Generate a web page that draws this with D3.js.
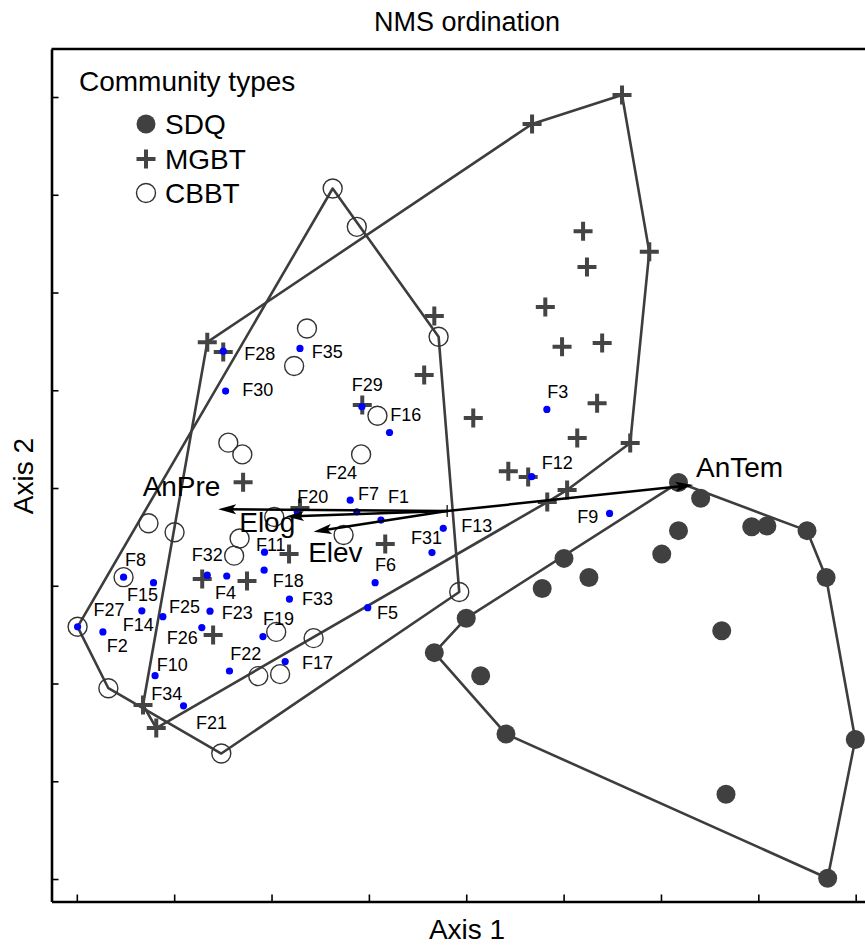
<!DOCTYPE html>
<html>
<head>
<meta charset="utf-8">
<script src="https://cdn.jsdelivr.net/npm/d3@7"></script>
<style>
  body { margin: 0; background: #fff; }
  text { font-family: "Liberation Sans", Arial, sans-serif; fill: #000; }
</style>
</head>
<body>
<div id="chart"></div>
<script>
// NMS scores (axis units, ticks every 0.25)
var sdq = [[0.545, 0.014], [0.602, -0.026], [0.733, -0.099], [0.772, -0.097], [0.875, -0.109],
  [0.924, -0.229], [0.999, -0.643], [0.928, -0.998], [0.667, -0.783], [0.102, -0.629],
  [0.037, -0.480], [-0.082, -0.421], [0.000, -0.333], [0.251, -0.180], [0.195, -0.257],
  [0.315, -0.229], [0.502, -0.169], [0.545, -0.109], [0.656, -0.365]];

var mgbt = [[0.400, 1.005], [0.169, 0.931], [0.470, 0.604], [0.300, 0.657], [0.310, 0.565],
  [0.203, 0.463], [0.246, 0.361], [0.349, 0.371], [0.336, 0.217], [0.285, 0.128],
  [0.421, 0.115], [-0.082, 0.440], [-0.108, 0.289], [0.018, 0.179], [0.108, 0.043],
  [0.159, 0.028], [0.259, -0.005], [0.208, -0.036], [-0.665, 0.373], [-0.624, 0.348],
  [-0.267, 0.212], [-0.573, 0.015], [-0.427, -0.051], [-0.455, -0.169], [-0.208, -0.143],
  [-0.678, -0.233], [-0.563, -0.238], [-0.650, -0.376], [-0.830, -0.555], [-0.796, -0.614]];

var cbbt = [[-0.343, 0.766], [-0.281, 0.668], [-0.409, 0.408], [-0.442, 0.312], [-0.071, 0.387],
  [-0.228, 0.185], [-0.611, 0.116], [-0.575, 0.086], [-0.270, 0.086], [-0.816, -0.090],
  [-0.749, -0.113], [-0.493, -0.074], [-0.582, -0.129], [-0.596, -0.173], [-0.315, -0.120],
  [-0.880, -0.228], [-0.018, -0.266], [-0.998, -0.355], [-0.919, -0.512], [-0.629, -0.679],
  [-0.488, -0.368], [-0.392, -0.384], [-0.534, -0.481], [-0.478, -0.476]];

var siteNames = ['F1', 'F2', 'F3', 'F4', 'F5', 'F6', 'F7', 'F8', 'F9', 'F10',
  'F11', 'F12', 'F13', 'F14', 'F15', 'F16', 'F17', 'F18', 'F19', 'F20',
  'F21', 'F22', 'F23', 'F24', 'F25', 'F26', 'F27', 'F28', 'F29', 'F30',
  'F31', 'F32', 'F33', 'F34', 'F35'];

// site points (F21 is not visible in the figure)
var sitePoints = [[-0.219, -0.082], [-0.933, -0.368], [0.207, 0.201], [-0.615, -0.225], [-0.253, -0.306],
  [-0.234, -0.242], [-0.281, -0.061], [-0.880, -0.228], [0.368, -0.065], [-0.799, -0.480],
  [-0.518, -0.164], [0.168, 0.029], [-0.059, -0.103], [-0.833, -0.314], [-0.803, -0.242],
  [-0.197, 0.142], [-0.465, -0.444], [-0.519, -0.210], [-0.522, -0.380], [-0.434, -0.061],
  null, [-0.608, -0.468], [-0.658, -0.315], [-0.298, -0.031], [-0.779, -0.329],
  [-0.679, -0.357], [-0.998, -0.355], [-0.624, 0.350], [-0.268, 0.208], [-0.618, 0.248],
  [-0.088, -0.165], [-0.665, -0.223], [-0.454, -0.284], [-0.726, -0.557], [-0.427, 0.357]];

// where each site label sits (left edge, middle)
var siteLabelAt = [[-0.201, -0.023], [-0.923, -0.404], [0.208, 0.246], [-0.645, -0.269], [-0.229, -0.320],
  [-0.234, -0.197], [-0.278, -0.015], [-0.876, -0.184], [0.285, -0.074], [-0.795, -0.453],
  [-0.540, -0.146], [0.194, 0.064], [-0.013, -0.097], [-0.882, -0.349], [-0.871, -0.274],
  [-0.195, 0.188], [-0.422, -0.446], [-0.497, -0.237], [-0.522, -0.333], [-0.434, -0.023],
  [-0.694, -0.599], [-0.606, -0.423], [-0.628, -0.320], [-0.360, 0.038], [-0.763, -0.304],
  [-0.769, -0.384], [-0.957, -0.310], [-0.570, 0.343], [-0.294, 0.263], [-0.575, 0.251],
  [-0.142, -0.126], [-0.705, -0.171], [-0.422, -0.284], [-0.809, -0.525], [-0.397, 0.349]];

// environmental vectors
var vecOrigin = [-0.049, -0.059];
var vecNames = ['AnTem', 'AnPre', 'Elog', 'Elev'];
var vecTips = [[0.583, 0.008], [-0.637, -0.054], [-0.463, -0.073], [-0.392, -0.112]];
var vecLabelAt = [[0.590, 0.028], [-0.831, -0.020], [-0.583, -0.113], [-0.406, -0.188]];

var groupNames = ['SDQ', 'MGBT', 'CBBT'];
var tickVals = [-1, -0.75, -0.5, -0.25, 0, 0.25, 0.5, 0.75, 1];

var w = 865;
var h = 945;
var plotLeft = 51.5, plotTop = 49, plotBottom = 901.5, plotRight = 881;
var ink = '#3d3d3d';

var svg = d3.select('#chart')
  .append('svg')
  .attr('width', w)
  .attr('height', h);

svg.append('rect').attr('width', w).attr('height', h).attr('fill', '#fff');

var x = d3.scaleLinear().domain([-1.065, 1.065]).range([plotLeft, plotRight]);
var y = d3.scaleLinear().domain([-1.0575, 1.1228]).range([plotBottom, plotTop]);

function px(p) { return [x(p[0]), y(p[1])]; }

// hulls
[sdq, mgbt, cbbt].forEach(function(g) {
  var hull = d3.polygonHull(g.map(px));
  svg.append('path')
    .attr('d', 'M' + hull.join('L') + 'Z')
    .attr('fill', 'none')
    .attr('stroke', ink)
    .attr('stroke-width', 2.6)
    .attr('stroke-linejoin', 'round');
});

// points
svg.append('g').selectAll('circle')
  .data(sdq)
  .enter()
  .append('circle')
  .attr('cx', function(d) { return x(d[0]); })
  .attr('cy', function(d) { return y(d[1]); })
  .attr('r', 9.5)
  .attr('fill', '#404040');

svg.append('g').selectAll('circle')
  .data(cbbt)
  .enter()
  .append('circle')
  .attr('cx', function(d) { return x(d[0]); })
  .attr('cy', function(d) { return y(d[1]); })
  .attr('r', 9.5)
  .attr('fill', 'none')
  .attr('stroke', '#333')
  .attr('stroke-width', 1.4);

var crossPath = 'M-9.5,0H9.5M0,-9.5V9.5';
svg.append('g').selectAll('path')
  .data(mgbt)
  .enter()
  .append('path')
  .attr('d', crossPath)
  .attr('transform', function(d) { return 'translate(' + x(d[0]) + ',' + y(d[1]) + ')'; })
  .attr('stroke', '#444')
  .attr('stroke-width', 4);

// sites
svg.append('g').selectAll('circle')
  .data(sitePoints.filter(function(d) { return d; }))
  .enter()
  .append('circle')
  .attr('cx', function(d) { return x(d[0]); })
  .attr('cy', function(d) { return y(d[1]); })
  .attr('r', 3.6)
  .attr('fill', '#0000ff');

svg.append('g').selectAll('text')
  .data(siteNames)
  .enter()
  .append('text')
  .attr('x', function(d, i) { return x(siteLabelAt[i][0]); })
  .attr('y', function(d, i) { return y(siteLabelAt[i][1]); })
  .attr('dy', '0.35em')
  .attr('font-size', 18)
  .text(function(d) { return d; });

// vectors
var vg = svg.append('g');
vecTips.forEach(function(t, i) {
  var o = px(vecOrigin), p = px(t);
  var dx = p[0] - o[0], dy = p[1] - o[1];
  var len = Math.sqrt(dx * dx + dy * dy);
  var ux = dx / len, uy = dy / len;
  var hl = 18, hw = 5;
  var bx = p[0] - ux * hl, by = p[1] - uy * hl;
  vg.append('line')
    .attr('x1', o[0]).attr('y1', o[1])
    .attr('x2', p[0] - ux * 8).attr('y2', p[1] - uy * 8)
    .attr('stroke', '#000')
    .attr('stroke-width', 2.5);
  vg.append('path')
    .attr('d', 'M' + p[0] + ',' + p[1] +
      'L' + (bx - uy * hw) + ',' + (by + ux * hw) +
      'L' + (bx + ux * 4) + ',' + (by + uy * 4) +
      'L' + (bx + uy * hw) + ',' + (by - ux * hw) + 'Z')
    .attr('fill', '#000');
  vg.append('text')
    .attr('x', x(vecLabelAt[i][0]))
    .attr('y', y(vecLabelAt[i][1]))
    .attr('font-size', 28)
    .text(vecNames[i]);
});
// origin mark
vg.append('line')
  .attr('x1', x(vecOrigin[0])).attr('x2', x(vecOrigin[0]))
  .attr('y1', y(vecOrigin[1]) - 6).attr('y2', y(vecOrigin[1]) + 6)
  .attr('stroke', '#000')
  .attr('stroke-width', 1.2);

// axes
var xAxis = svg.append('g')
  .attr('transform', 'translate(0,' + plotBottom + ')')
  .call(d3.axisBottom(x).tickValues(tickVals).tickSizeInner(-7).tickSizeOuter(0).tickFormat(''));
var yAxis = svg.append('g')
  .attr('transform', 'translate(' + plotLeft + ',0)')
  .call(d3.axisLeft(y).tickValues(tickVals).tickSizeInner(-7).tickSizeOuter(0).tickFormat(''));
[xAxis, yAxis].forEach(function(a) {
  a.select('.domain').attr('stroke', '#000').attr('stroke-width', 2.6);
  a.selectAll('.tick line').attr('stroke', '#000').attr('stroke-width', 1.6);
});
svg.append('line')
  .attr('x1', plotLeft).attr('x2', plotRight)
  .attr('y1', plotTop).attr('y2', plotTop)
  .attr('stroke', '#000')
  .attr('stroke-width', 2.6);

// titles
svg.append('text')
  .attr('x', 467).attr('y', 31)
  .attr('text-anchor', 'middle')
  .attr('font-size', 27)
  .text('NMS ordination');
svg.append('text')
  .attr('x', 467).attr('y', 939)
  .attr('text-anchor', 'middle')
  .attr('font-size', 28)
  .text('Axis 1');
svg.append('text')
  .attr('transform', 'translate(33,476) rotate(-90)')
  .attr('text-anchor', 'middle')
  .attr('font-size', 28)
  .text('Axis 2');

// legend
var lg = svg.append('g');
lg.append('text').attr('x', 79).attr('y', 91).attr('font-size', 28).text('Community types');
var ly = [124, 159, 193];
lg.append('circle').attr('cx', 146).attr('cy', ly[0]).attr('r', 9.5).attr('fill', '#404040');
lg.append('path').attr('d', crossPath)
  .attr('transform', 'translate(146,' + ly[1] + ')')
  .attr('stroke', '#444').attr('stroke-width', 4);
lg.append('circle').attr('cx', 146).attr('cy', ly[2]).attr('r', 9.5)
  .attr('fill', 'none').attr('stroke', '#333').attr('stroke-width', 1.4);
lg.selectAll('.lt')
  .data(groupNames)
  .enter()
  .append('text')
  .attr('class', 'lt')
  .attr('x', 165)
  .attr('y', function(d, i) { return ly[i] + 10; })
  .attr('font-size', 28)
  .text(function(d) { return d; });
</script>
</body>
</html>
